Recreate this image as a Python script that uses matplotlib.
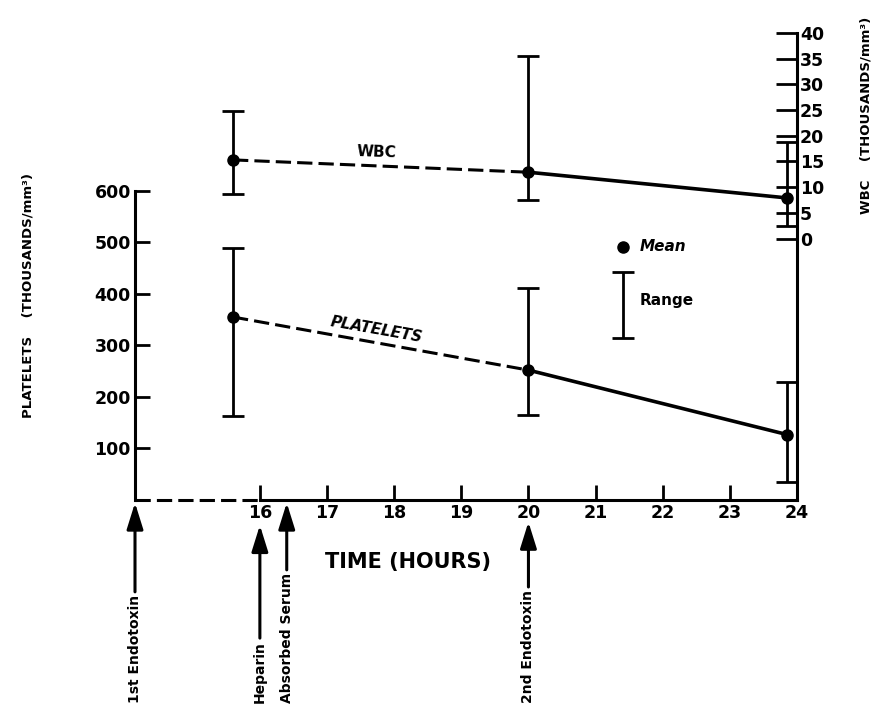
"""Platelets and WBC after endotoxin, redrawn."""
import matplotlib.pyplot as plt

# time of the three sampling points (hours)
times = [15.6, 20.0, 23.85]

# platelets, thousands/mm3
plt_mean = [355, 252, 127]
plt_low = [163, 165, 34]
plt_high = [489, 412, 229]

# WBC, thousands/mm3
wbc_mean = [15.3, 12.9, 7.9]
wbc_low = [8.7, 7.5, 2.4]
wbc_high = [24.9, 35.6, 18.7]

hour_ticks = [16, 17, 18, 19, 20, 21, 22, 23, 24]
platelet_ticks = [100, 200, 300, 400, 500, 600]
wbc_ticks = [0, 5, 10, 15, 20, 25, 30, 35, 40]

X_START = 14.14  # left end of the broken time axis
event_names = ["1st Endotoxin", "Heparin", "Absorbed Serum", "2nd Endotoxin"]
event_times = [X_START, 16.0, 16.4, 20.0]
arrow_gap = [0.006, 0.054, 0.006, 0.047]  # below axis, axes fraction

LW = 2.2
DASH = (0, (5, 2))


def draw_series(ax, mean, low, high):
    """Range bars, dashed then solid line, mean dots."""
    err = [[m - lo for m, lo in zip(mean, low)],
           [hi - m for m, hi in zip(mean, high)]]
    ax.errorbar(times, mean, yerr=err, fmt="none", ecolor="black",
                elinewidth=2, capsize=8, capthick=2)
    ax.plot(times[:2], mean[:2], color="black", lw=LW, ls=DASH)
    ax.plot(times[1:], mean[1:], color="black", lw=2.6)
    ax.plot(times, mean, "o", color="black", ms=8)


def main():
    dpi = 100
    fig = plt.figure(dpi=dpi, figsize=(876 / dpi, 707 / dpi))
    ax = fig.add_axes([135 / 876, 207 / 707, 662 / 876, 467 / 707])
    ax2 = ax.twinx()

    ax.set_xlim(X_START, 24)
    ax.set_ylim(0, 906)
    ax2.set_ylim(-50.9, 40)

    # axes frame
    for side in ("top", "right"):
        ax.spines[side].set_visible(False)
    for side in ("top", "left", "bottom"):
        ax2.spines[side].set_visible(False)
    ax.spines["left"].set_bounds(0, 600)
    ax.spines["bottom"].set_bounds(16, 24)
    for sp in (ax.spines["left"], ax.spines["bottom"], ax2.spines["right"]):
        sp.set_linewidth(LW)
    ax.plot([X_START, 16], [0, 0], color="black", lw=LW, ls=DASH,
            clip_on=False)

    ax.set_xticks(hour_ticks)
    ax.set_yticks(platelet_ticks)
    ax2.set_yticks(wbc_ticks)
    ax.tick_params(direction="in", length=11, width=2, labelsize=12.5,
                   pad=3)
    ax2.tick_params(direction="in", length=15, width=2, labelsize=12.5,
                    pad=2)
    for lab in ax.get_xticklabels() + ax.get_yticklabels() + \
            ax2.get_yticklabels():
        lab.set_fontweight("bold")

    draw_series(ax, plt_mean, plt_low, plt_high)
    draw_series(ax2, wbc_mean, wbc_low, wbc_high)

    ax2.text(17.74, 16.8, "WBC", rotation=-2, ha="center", va="center",
             fontsize=11, fontweight="bold")
    ax.text(17.74, 330, "PLATELETS", rotation=-10, ha="center",
            va="center", fontsize=11, fontweight="bold", style="italic")

    # key
    ax.plot([21.41], [491], "o", color="black", ms=8)
    ax.text(21.66, 491, "Mean", va="center", fontsize=11,
            fontweight="bold", style="italic")
    ax.errorbar([21.41], [378], yerr=[[64], [64]], fmt="none",
                ecolor="black", elinewidth=2, capsize=8, capthick=2)
    ax.text(21.66, 388, "Range", va="center", fontsize=11,
            fontweight="bold")

    # event arrows under the time axis
    for name, t, gap in zip(event_names, event_times, arrow_gap):
        ax.annotate(name, xy=(t, -gap), xycoords=("data", "axes fraction"),
                    xytext=(t, 0.006), textcoords=("data", "figure fraction"),
                    rotation=90, ha="center", va="bottom", fontsize=10,
                    fontweight="bold", annotation_clip=False,
                    arrowprops=dict(arrowstyle="-|>,head_length=0.8,"
                                    "head_width=0.25", lw=2.2,
                                    mutation_scale=20, color="black",
                                    shrinkA=0, shrinkB=0))

    fig.text(408 / 876, 1 - 562 / 707, "TIME (HOURS)", ha="center",
             va="center", fontsize=15, fontweight="bold")
    fig.text(28 / 876, 1 - 295 / 707, "PLATELETS    (THOUSANDS/mm³)",
             rotation=90, ha="center", va="center", fontsize=9.5,
             fontweight="bold")
    fig.text(866 / 876, 1 - 115 / 707, "WBC    (THOUSANDS/mm³)",
             rotation=90, ha="center", va="center", fontsize=9.5,
             fontweight="bold")

    fig.savefig("out.png")


if __name__ == "__main__":
    main()
